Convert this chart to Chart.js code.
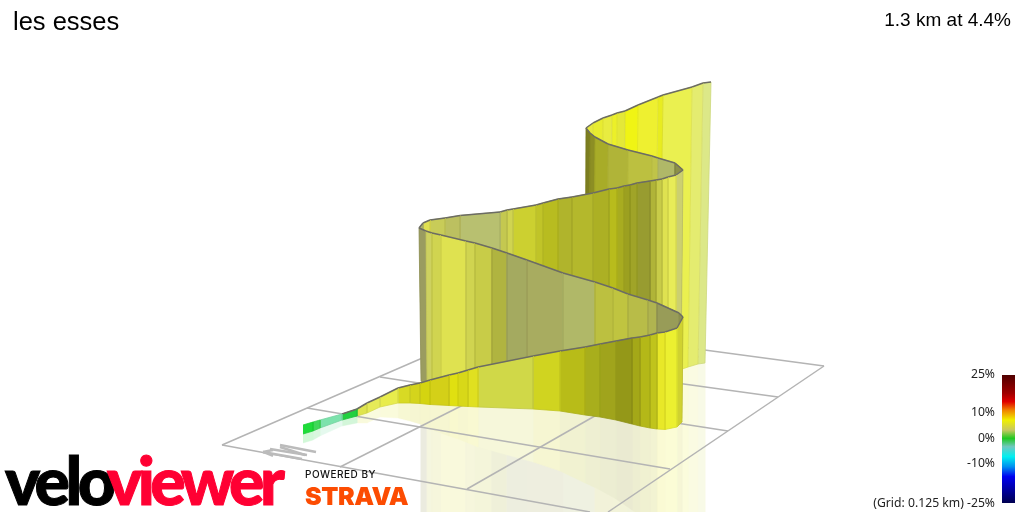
<!DOCTYPE html>
<html>
<head>
<meta charset="utf-8">
<title>les esses</title>
<script src="https://cdn.jsdelivr.net/npm/chart.js@4/dist/chart.umd.min.js"></script>
<style>
  html, body { margin: 0; padding: 0; background: #fff; }
  #wrap { position: relative; width: 1024px; height: 512px; overflow: hidden; }
  canvas { display: block; }
  .t { position: absolute; white-space: nowrap; line-height: 1; color: #000; }
  #title { left: 13px; top: 7px; font: 25.5px "Liberation Sans", sans-serif; }
  #summary { right: 13px; top: 9px; font: 19px "Liberation Sans", sans-serif; }
  .tick { right: 29px; font: 12.2px "Noto Sans", sans-serif; color: #222; }
  .logo { font-family: Lato, sans-serif; font-weight: 900; font-size: 66px; letter-spacing: -4.5px; -webkit-text-stroke: 1px currentColor; }
  #powered { left: 305px; top: 468px; font: 500 10px Inter, sans-serif; letter-spacing: .5px; color: #111; }
  #strava { left: 305px; top: 481px; font: 900 25px Inter, sans-serif; letter-spacing: -.4px; color: #fc4c02; }
</style>
</head>
<body>
<div id="wrap">
  <canvas id="c" width="1024" height="512"></canvas>
  <div class="t" id="title">les esses</div>
  <div class="t" id="summary">1.3 km at 4.4%</div>
  <div class="t logo" id="velo" style="left:5px;top:447px;color:#000">velo</div>
  <div class="t logo" id="viewer" style="left:107px;top:447px;color:#ff0033">viewer</div>
  <div class="t" id="powered">POWERED BY</div>
  <div class="t" id="strava">STRAVA</div>
</div>
<script>
// ribbon, start of the climb first; each leg on its own lines
const topX = [
  303, 313, 320, 342, 357, 367, 380, 398, 410, 420, 430, 449, 458, 468, 478, 533, 560, 585, 600, 616, 632, 640, 650, 657, 665, 677,
  683, 679, 657, 648, 628, 613, 595, 563, 527, 507, 492, 475, 466, 441, 432, 426,
  419, 423, 430, 445, 460, 500, 507, 513, 536, 543, 558, 572, 593, 609, 617, 624, 630, 637, 650, 656, 662, 668, 676,
  683, 675, 658, 652, 628, 608, 595, 590,
  586, 593, 603, 612, 617, 625, 638, 658, 663, 692, 703, 711
];
const topY = [
  425, 422, 420, 414, 409, 403, 397, 388, 385, 383, 380, 375, 373, 370, 367, 356, 351, 347, 344, 341, 338, 337, 335, 333, 332, 328,
  317, 313, 303, 300, 294, 288, 282, 273, 260, 253, 248, 243, 241, 235, 233, 231,
  228, 223, 220, 218, 215.5, 212, 210, 209, 205, 203, 199, 197, 193, 189, 188, 186, 185, 183, 181, 180, 179, 177, 175,
  170, 163, 158, 156, 150, 144, 137, 133,
  128, 123, 118, 115, 113, 111, 105, 97, 95, 87, 83, 82
];
const baseX = [
  303, 313, 320, 342, 357, 367, 380, 398, 410, 420, 430, 449, 458, 468, 478, 533, 560, 585, 600, 616, 632, 640, 650, 657, 665, 677,
  682, 680, 657, 648, 628, 613, 595, 563, 527, 507, 492, 475, 466, 441, 432, 427,
  421, 423, 430, 445, 460, 500, 507, 513, 536, 543, 558, 572, 593, 609, 617, 624, 630, 637, 650, 656, 662, 668, 676,
  681, 675, 657, 651, 627, 607, 594, 589,
  585, 591, 601, 610, 615, 623, 635, 654, 659, 688, 698, 705
];
const baseY = [
  434, 431, 428, 420, 416, 413, 407, 403, 403, 403.5, 404.5, 405.5, 406, 406.5, 407, 409, 411, 415, 417, 420, 424, 426, 428, 429, 429.5, 427,
  422, 419, 416, 414, 411, 409, 406, 402, 396, 394, 392, 389, 388, 385, 384, 383,
  381, 381, 381, 380.5, 380, 378, 378, 378, 377, 377, 376, 376, 375, 374, 374, 373, 373, 373, 372, 372, 371, 371, 370,
  370, 371, 373, 374, 378, 382, 385, 386,
  387, 386, 385, 384, 384, 383, 381, 378, 377, 367, 364, 363
];
// colour of the strip running from each point to the next one
const stripColors = [
  '#1fdc3a', '#3fd858', '#7ce2ac', '#22d040', '#dfe44e', '#e6ea58', '#e8ec4c', '#d8da24', '#d4d41c', '#d4d410', '#d4d018', '#e0e010', '#d8d818', '#e0e020', '#d0d848', '#d0d420', '#b8bc18', '#a8ae1c', '#a0a41c', '#949818', '#a4a818', '#b4b818', '#c0c41c', '#e8e828', '#ecf030', '#d0d230',
  '#8e9250', '#989c58', '#b0b450', '#b8bc48', '#c0c440', '#bcc040', '#b0b868', '#a8ac60', '#a4aa60', '#b0b440', '#c8cc48', '#d0d450', '#dfe250', '#d0d450', '#cdd160', '#9a9c60',
  '#b4b86a', '#e0e050', '#c8cc58', '#bcc060', '#b8c070', '#c4c850', '#d0d450', '#ccd030', '#c0c428', '#b8bc20', '#b0b42c', '#b4b82c', '#acb024', '#b8bc1c', '#a8ac20', '#9ca020', '#a0a428', '#989c30', '#b0b438', '#c8cc48', '#dfe250', '#e8ec58', '#ccd070',
  '#8c9048', '#b0b868', '#c0c448', '#bcc040', '#b0b438', '#a8ac28', '#8c8e24', '#7c7e20',
  '#e8ea3e', '#e8ec30', '#e8ec40', '#ecf028', '#e4e838', '#f0f414', '#eef030', '#e8ec20', '#eaf050', '#e4ec70', '#dce888'
];
const edgeStart = 3; // the dark top edge only begins after the green bit

// floor grid and north arrow, as [x1, y1, x2, y2]
const gridLines = [
  [222, 445, 503, 323], [503, 323, 824, 366], [824, 366, 608, 512], [222, 445, 590, 512],
  [307, 408, 670, 469], [380, 377, 728, 431], [437, 350, 778, 397],
  [340, 467, 600, 336], [467, 489, 705, 353]
];
const arrowLines = [
  [280, 445, 316, 452], [270, 449, 307, 455], [263, 452, 302, 459], [280, 447, 305, 455], [263, 452, 273, 450], [263, 452, 273, 456]
];

// gradient scale on the right
const scaleX = [1002, 1015];
const scaleY = [375, 503];
const scaleStops = [0, .143, .208, .273, .352, .43, .495, .56, .638, .716, .794, 1];
const scaleColors = ['#500000', '#a00000', '#e00000', '#f08000', '#f0f000', '#c8c860', '#20c820', '#70c8c0', '#00f0f0', '#0090f0', '#0000f0', '#000050'];
const scaleLabels = ['25%', '10%', '0%', '-10%', '(Grid: 0.125 km) -25%'];
const scaleLabelTops = [365, 403, 429, 454, 494];

const wrap = document.getElementById('wrap');
scaleLabels.forEach((txt, i) => {
  const d = document.createElement('div');
  d.className = 't tick';
  d.style.top = scaleLabelTops[i] + 'px';
  d.textContent = txt;
  wrap.appendChild(d);
});

// mix a strip colour towards white (mirror image on the floor) or black (strip seams)
function mix(hex, to, amount) {
  const n = parseInt(hex.slice(1), 16);
  const m = c => Math.round(c + (to - c) * amount);
  return `rgb(${m(n >> 16)},${m((n >> 8) & 255)},${m(n & 255)})`;
}

function poly(points, color, border) {
  return {
    data: points.map(p => ({ x: p[0], y: p[1] })),
    showLine: true, fill: 'shape', tension: 0,
    backgroundColor: color,
    borderColor: border || color, borderWidth: border ? 0.8 : 0.4,
    pointRadius: 0
  };
}

function seg(l, color, width) {
  return {
    data: [{ x: l[0], y: l[1] }, { x: l[2], y: l[3] }],
    showLine: true, fill: false, tension: 0,
    borderColor: color, borderWidth: width, pointRadius: 0
  };
}

// painter's order: far end first
const painted = [];
for (let i = stripColors.length - 1; i >= 0; i--) {
  painted.push(poly([
    [baseX[i], baseY[i]], [baseX[i + 1], baseY[i + 1]],
    [baseX[i + 1], 2 * baseY[i + 1] - topY[i + 1]], [baseX[i], 2 * baseY[i] - topY[i]]
  ], mix(stripColors[i], 255, 0.8)));
}
gridLines.forEach(l => painted.push(seg(l, '#b4b4b4', 1.5)));
arrowLines.forEach(l => painted.push(seg(l, '#bbbbbb', 2.4)));
for (let i = stripColors.length - 1; i >= 0; i--) {
  painted.push(poly([
    [topX[i], topY[i]], [topX[i + 1], topY[i + 1]],
    [baseX[i + 1], baseY[i + 1]], [baseX[i], baseY[i]]
  ], stripColors[i], mix(stripColors[i], 0, 0.07)));
  if (i >= edgeStart) painted.push(seg([topX[i], topY[i], topX[i + 1], topY[i + 1]], '#6c6c64', 1.5));
}

// colour scale rectangle
const scaleSet = poly([[scaleX[0], scaleY[0]], [scaleX[1], scaleY[0]], [scaleX[1], scaleY[1]], [scaleX[0], scaleY[1]]], '#888');
scaleSet.borderWidth = 0;
scaleSet.backgroundColor = ctx => {
  const y = ctx.chart.scales.y;
  const y0 = y ? y.getPixelForValue(scaleY[0]) : NaN;
  const y1 = y ? y.getPixelForValue(scaleY[1]) : NaN;
  if (!isFinite(y0) || !isFinite(y1)) return '#888'; // scale not laid out yet
  const g = ctx.chart.ctx.createLinearGradient(0, y0, 0, y1);
  scaleStops.forEach((s, i) => g.addColorStop(s, scaleColors[i]));
  return g;
};
painted.push(scaleSet);

new Chart(document.getElementById('c').getContext('2d'), {
  type: 'scatter',
  // the first dataset is drawn last by Chart.js
  data: { datasets: painted.reverse() },
  options: {
    responsive: false, animation: false, events: [],
    layout: { padding: 0 },
    plugins: { legend: { display: false }, tooltip: { enabled: false } },
    scales: {
      x: { type: 'linear', min: 0, max: 1024, display: false },
      y: { type: 'linear', min: 0, max: 512, reverse: true, display: false }
    }
  }
});
</script>
</body>
</html>
